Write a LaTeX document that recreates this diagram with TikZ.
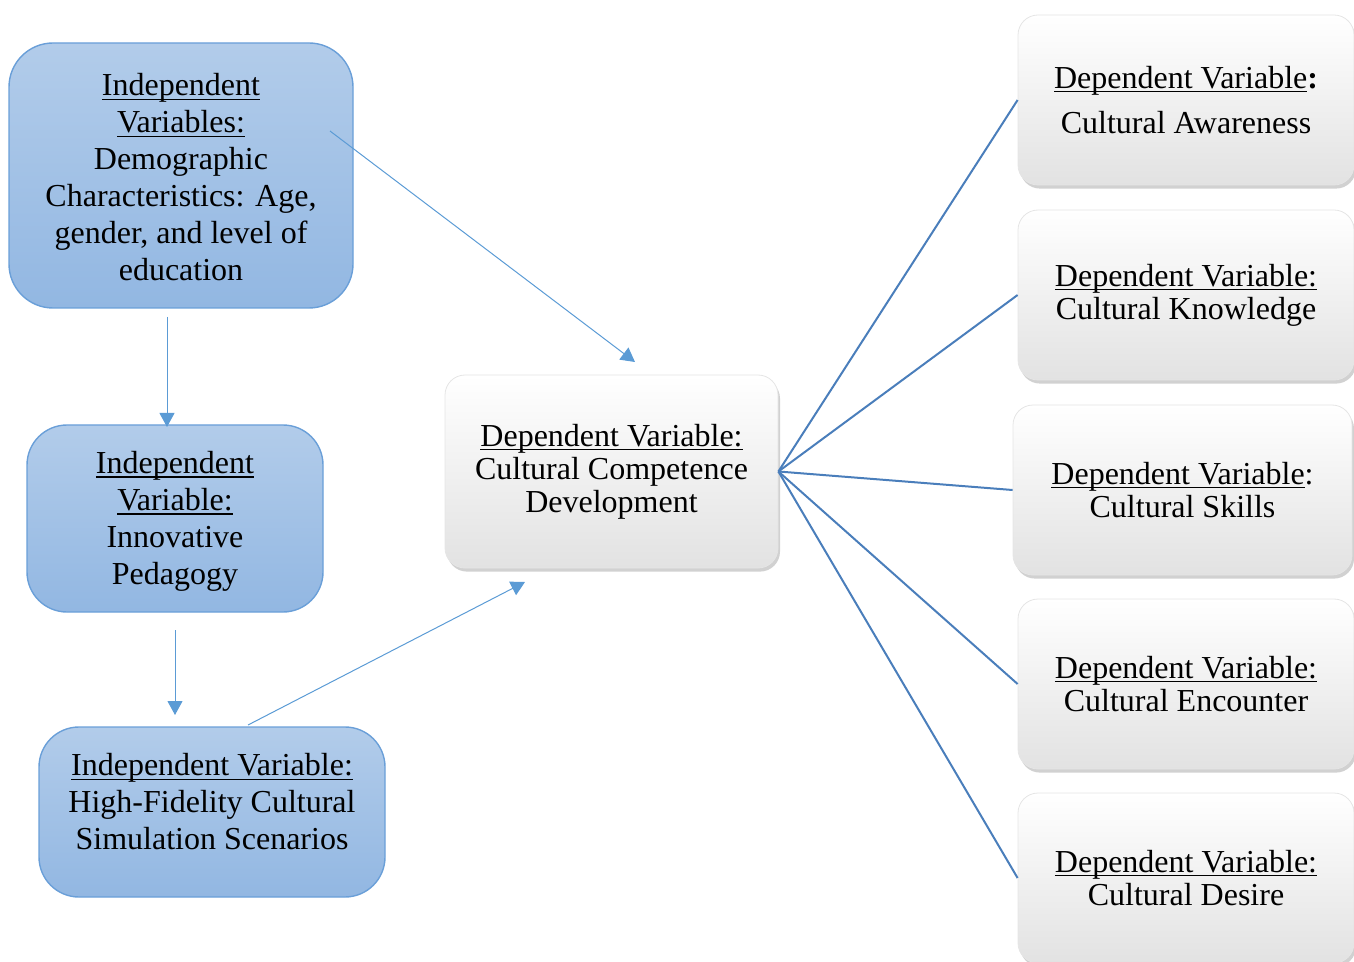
\documentclass[tikz,border=0pt]{standalone}
\usepackage{fontspec}
\setmainfont{Liberation Serif}
\usetikzlibrary{arrows.meta,shadows}
\newcommand\myul[1]{\leavevmode\setbox0\hbox{#1}\rlap{\rule[-2pt]{\wd0}{0.7pt}}\box0}
\definecolor{bluetop}{HTML}{B2CCEA}
\definecolor{bluebot}{HTML}{92B7E2}
\definecolor{blueedge}{HTML}{6A9FD8}
\definecolor{arrowblue}{HTML}{5B9BD5}
\definecolor{linkblue}{HTML}{4A7EBB}
\definecolor{graybot}{HTML}{E2E2E2}
\tikzset{
  indep/.style={rectangle, rounded corners=20pt, draw=blueedge, line width=0.7pt,
    top color=bluetop, bottom color=bluebot, align=center, inner sep=0pt,
    font=\fontsize{16pt}{18.5pt}\selectfont},
  dep/.style={rectangle, rounded corners=10pt, draw=gray!20, line width=0.4pt,
    top color=white, bottom color=graybot, align=center, inner sep=0pt,
    minimum width=168pt, minimum height=85pt,
    drop shadow={shadow xshift=1pt, shadow yshift=-1.8pt, opacity=0.45, fill=gray!80},
    font=\fontsize{16pt}{16.5pt}\selectfont},
  flow/.style={draw=arrowblue, line width=0.5pt, -{Triangle[length=7pt,width=7.5pt]}},
  link/.style={draw=linkblue, line width=1pt}
}
\begin{document}
\begin{tikzpicture}[x=0.5pt,y=-0.5pt]
\useasboundingbox (0,0) rectangle (1354,962);
% independent boxes
\node[indep, minimum width=172pt, minimum height=132.5pt, rounded corners=22pt] (A) at (181,175.5) {};
\node[align=center, inner sep=0pt, font=\fontsize{16pt}{18.5pt}\selectfont] (At) at (181,177.5)
  {\myul{Independent}\\ \myul{Variables:}\\ Demographic\\ Characteristics: Age,\\ gender, and level of\\ education};
\node[indep, minimum width=148pt, minimum height=93.5pt] (B) at (175,518.5) {};
\node[align=center, inner sep=0pt, font=\fontsize{16pt}{18.5pt}\selectfont] (Bt) at (175,521.5)
  {\myul{Independent}\\ \myul{Variable:}\\ Innovative\\ Pedagogy};
\node[indep, minimum width=173pt, minimum height=85pt] (C) at (212,812) {};
\node[align=center, inner sep=0pt, font=\fontsize{16pt}{18.5pt}\selectfont] (Ct) at (212,802)
  {\myul{Independent Variable:}\\ High-Fidelity Cultural\\ Simulation Scenarios};
% middle
\node[dep, minimum width=166.5pt, minimum height=96.5pt] (M) at (611.5,471.5)
  {\myul{Dependent Variable:}\\ Cultural Competence\\ Development};
% right
\node[dep] (R1) at (1186,100) {\myul{Dependent Variable}\textbf{:}\\[6pt] Cultural Awareness};
\node[dep] (R2) at (1186,295) {\myul{Dependent Variable:}\\ Cultural Knowledge};
\node[dep, minimum width=169.5pt] (R3) at (1182.5,490) {\myul{Dependent Variable}:\\ Cultural Skills};
\node[dep] (R4) at (1186,684) {\myul{Dependent Variable:}\\ Cultural Encounter};
\node[dep] (R5) at (1186,878) {\myul{Dependent Variable:}\\ Cultural Desire};
% arrows
\coordinate (a1) at (330,131);
\coordinate (a2) at (635,362);
\coordinate (b1) at (167,317);
\coordinate (b2) at (167,427);
\coordinate (c1) at (175,630);
\coordinate (c2) at (175,715);
\coordinate (d1) at (248,725);
\coordinate (d2) at (525,582);
\draw[flow] (a1) -- (a2);
\draw[flow] (b1) -- (b2);
\draw[flow] (c1) -- (c2);
\draw[flow] (d1) -- (d2);
% links
\draw[link] (M.east) -- (R1.west);
\draw[link] (M.east) -- (R2.west);
\draw[link] (M.east) -- (R3.west);
\draw[link] (M.east) -- (R4.west);
\draw[link] (M.east) -- (R5.west);
\end{tikzpicture}
\end{document}
